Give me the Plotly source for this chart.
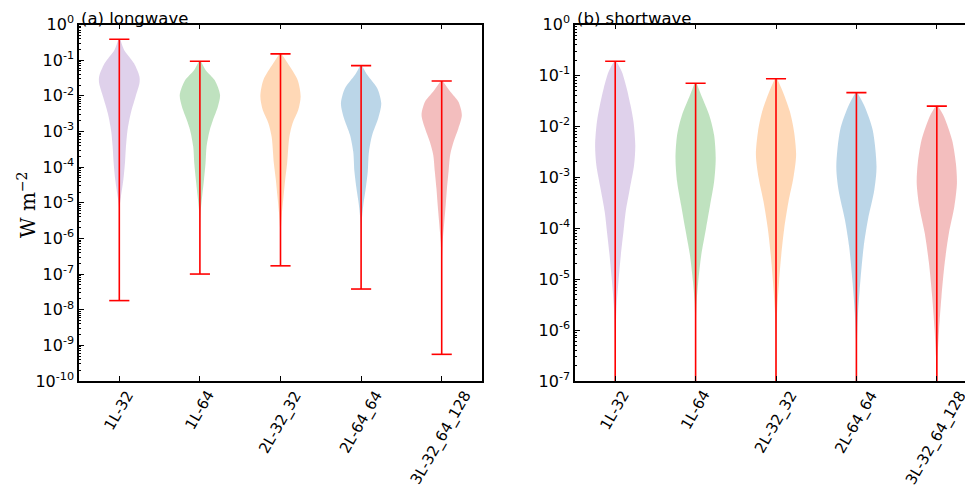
import numpy as np
import plotly.graph_objects as go

# ---------------- data ----------------
categories = ["1L-32", "1L-64", "2L-32_32", "2L-64_64", "3L-32_64_128"]
violin_colors = ["rgba(148,103,189,0.3)", "rgba(44,160,44,0.3)", "rgba(255,127,14,0.3)",
                 "rgba(31,119,180,0.3)", "rgba(214,39,40,0.3)"]

# (a) longwave: extremes (W m^-2)
lw_max = [0.385, 0.093, 0.15, 0.07, 0.026]
lw_min = [1.8e-8, 1.0e-7, 1.7e-7, 3.8e-8, 5.6e-10]
# violin outline: log10 levels and relative half-widths
lw_levels = [
    [-0.415, -0.715, -1.09, -1.46, -1.65, -2.02, -2.49, -2.96, -3.43, -3.89, -4.36, -4.83, -5.11, -6.0, -7.74],
    [-1.03, -1.28, -1.56, -1.98, -2.31, -2.68, -2.96, -3.43, -3.89, -4.36, -4.83, -5.3, -6.0, -7.0],
    [-0.82, -1.09, -1.56, -2.02, -2.40, -2.77, -3.15, -3.89, -4.36, -4.83, -5.3, -5.76, -6.77],
    [-1.155, -1.42, -1.79, -2.21, -2.63, -3.1, -3.57, -4.13, -4.6, -5.06, -5.53, -6.3, -7.42],
    [-1.585, -1.88, -2.17, -2.54, -2.91, -3.29, -3.66, -4.13, -4.6, -5.06, -5.53, -6.09, -6.5, -7.5, -9.25],
]
lw_widths = [
    [0.05, 0.24, 0.73, 1.0, 1.0, 0.81, 0.57, 0.41, 0.33, 0.28, 0.2, 0.08, 0.02, 0.005, 0.0],
    [0.05, 0.29, 0.73, 1.0, 0.89, 0.65, 0.49, 0.33, 0.28, 0.2, 0.11, 0.03, 0.005, 0.0],
    [0.05, 0.36, 0.85, 1.0, 0.88, 0.6, 0.44, 0.33, 0.23, 0.15, 0.07, 0.02, 0.0],
    [0.05, 0.31, 0.8, 1.0, 0.85, 0.55, 0.39, 0.33, 0.23, 0.11, 0.03, 0.005, 0.0],
    [0.05, 0.42, 0.83, 1.0, 0.83, 0.59, 0.42, 0.34, 0.26, 0.2, 0.13, 0.05, 0.02, 0.005, 0.0],
]

# (b) shortwave: extremes (minima fall below the axis)
sw_max = [0.19, 0.07, 0.086, 0.046, 0.025]
sw_min = [5e-8, 5e-8, 5e-8, 5e-8, 5e-8]
sw_levels = [
    [-0.717, -0.93, -1.25, -1.58, -1.91, -2.37, -2.76, -3.22, -3.68, -4.07, -4.53, -5.05, -5.51, -5.96, -6.6, -7.3],
    [-1.155, -1.39, -1.78, -2.17, -2.63, -3.09, -3.55, -4.0, -4.53, -5.05, -5.45, -6.0, -7.3],
    [-1.06, -1.32, -1.71, -2.11, -2.56, -3.02, -3.48, -4.0, -4.53, -5.05, -5.58, -6.1, -7.3],
    [-1.34, -1.61, -2.07, -2.79, -3.25, -3.84, -4.37, -5.02, -5.67, -6.2, -7.3],
    [-1.595, -1.81, -2.27, -2.73, -3.12, -3.58, -4.1, -4.69, -5.35, -6.0, -6.53, -7.3],
]
sw_widths = [
    [0.05, 0.33, 0.57, 0.76, 0.91, 1.0, 0.94, 0.73, 0.52, 0.41, 0.28, 0.16, 0.07, 0.03, 0.01, 0.005],
    [0.05, 0.28, 0.68, 0.92, 1.0, 0.92, 0.72, 0.52, 0.28, 0.13, 0.05, 0.01, 0.005],
    [0.05, 0.34, 0.69, 0.9, 1.0, 0.86, 0.62, 0.41, 0.26, 0.15, 0.06, 0.02, 0.005],
    [0.05, 0.41, 0.81, 1.0, 0.89, 0.57, 0.36, 0.2, 0.08, 0.03, 0.005],
    [0.05, 0.36, 0.76, 0.95, 1.0, 0.87, 0.6, 0.39, 0.23, 0.11, 0.04, 0.01],
]

lw_decades = list(range(-10, 1))
sw_decades = list(range(-7, 1))

# ---------------- figure ----------------
HALF = 0.25   # max half-width of a violin (x units)
CAP = 0.125   # half-length of extreme caps
positions = list(range(1, len(categories) + 1))
FONT = "DejaVu Sans"

# the page body adds an 8 px margin; size the figure to fill the rest of the window
OFF = 8
W, H = 973 - OFF, 493 - OFF


def px_x(X):
    return (X - OFF) / W


def px_y(Y):
    return 1 - (Y - OFF) / H


fig = go.Figure()


def add_panel(levels, widths, vmin, vmax, xa, ya):
    for pos, lev, w, col in zip(positions, levels, widths, violin_colors):
        lev = np.array(lev)
        hw = np.array(w) * HALF
        yv = 10.0 ** lev
        x = np.concatenate([pos - hw, (pos + hw)[::-1]])
        y = np.concatenate([yv, yv[::-1]])
        fig.add_trace(go.Scatter(x=x, y=y, mode="lines", fill="toself", fillcolor=col,
                                 line=dict(width=0, shape="spline", smoothing=0.8),
                                 xaxis=xa, yaxis=ya, hoverinfo="skip", showlegend=False))
    wx, wy = [], []
    for pos, lo, hi in zip(positions, vmin, vmax):
        wx += [pos, pos, None, pos - CAP, pos + CAP, None, pos - CAP, pos + CAP, None]
        wy += [lo, hi, None, hi, hi, None, lo, lo, None]
    fig.add_trace(go.Scatter(x=wx, y=wy, mode="lines", line=dict(color="red", width=1.6),
                             xaxis=xa, yaxis=ya, hoverinfo="skip", showlegend=False))


add_panel(lw_levels, lw_widths, lw_min, lw_max, "x", "y")
add_panel(sw_levels, sw_widths, sw_min, sw_max, "x2", "y2")


def log_axis(decades, mirror):
    return dict(
        type="log", range=[decades[0], decades[-1]], automargin=False,
        tickmode="array", tickvals=[10.0 ** d for d in decades],
        ticktext=[f"10<sup>{d}</sup>" for d in decades],
        ticks="inside", ticklen=5, tickwidth=1, tickcolor="black",
        minor=dict(tickvals=[m * 10.0 ** d for d in decades[:-1] for m in range(2, 10)],
                   ticks="inside", ticklen=2.5, tickcolor="black", showgrid=False),
        showline=True, linecolor="black", linewidth=1.5, mirror=mirror,
        showgrid=False, zeroline=False,
        tickfont=dict(family=FONT, size=16, color="black"),
    )


def cat_axis(rng):
    return dict(
        range=rng, tickmode="array", tickvals=positions, showticklabels=False,
        automargin=False,
        ticks="inside", ticklen=5, tickcolor="black",
        showline=True, linecolor="black", linewidth=1.5, mirror="ticks",
        showgrid=False, zeroline=False,
    )


YDOM = [px_y(381), px_y(24.5)]
XDOM1 = [px_x(79), px_x(482)]
XDOM2 = [px_x(575), 1.0]

fig.update_layout(
    template="none",
    width=W, height=H, margin=dict(l=0, r=0, t=0, b=0, pad=0, autoexpand=False),
    paper_bgcolor="white", plot_bgcolor="white",
    font=dict(family=FONT, size=15, color="black"),
    showlegend=False,
    xaxis=dict(domain=XDOM1, anchor="y", **cat_axis([0.5, 5.5])),
    yaxis=dict(domain=YDOM, anchor="x", **log_axis(lw_decades, True)),
    xaxis2=dict(domain=XDOM2, anchor="y2", **cat_axis([0.5, 5.45])),
    yaxis2=dict(domain=YDOM, anchor="x2", **log_axis(sw_decades, False)),
)

annotations = []
for xa in ("x", "x2"):
    for pos, lab in zip(positions, categories):
        annotations.append(dict(x=pos, xref=xa, y=YDOM[0], yref="paper", text=lab,
                                showarrow=False, textangle=-60, xanchor="center", yanchor="top",
                                yshift=-4, font=dict(family=FONT, size=15, color="black")))
for xd, title in ((XDOM1[0], "(a) longwave"), (XDOM2[0], "(b) shortwave")):
    annotations.append(dict(x=xd, y=1.0, xref="paper", yref="paper", text=title,
                            showarrow=False, xanchor="left", yanchor="top", borderpad=0,
                            xshift=1, font=dict(family=FONT, size=16.5, color="black")))
annotations.append(dict(x=px_x(27), y=px_y(205), xref="paper", yref="paper",
                        text="W m<sup>−2</sup>", showarrow=False, textangle=-90,
                        xanchor="center", yanchor="middle",
                        font=dict(family="DejaVu Serif", size=20, color="black")))
fig.update_layout(annotations=annotations)

fig.write_html("out.html")
